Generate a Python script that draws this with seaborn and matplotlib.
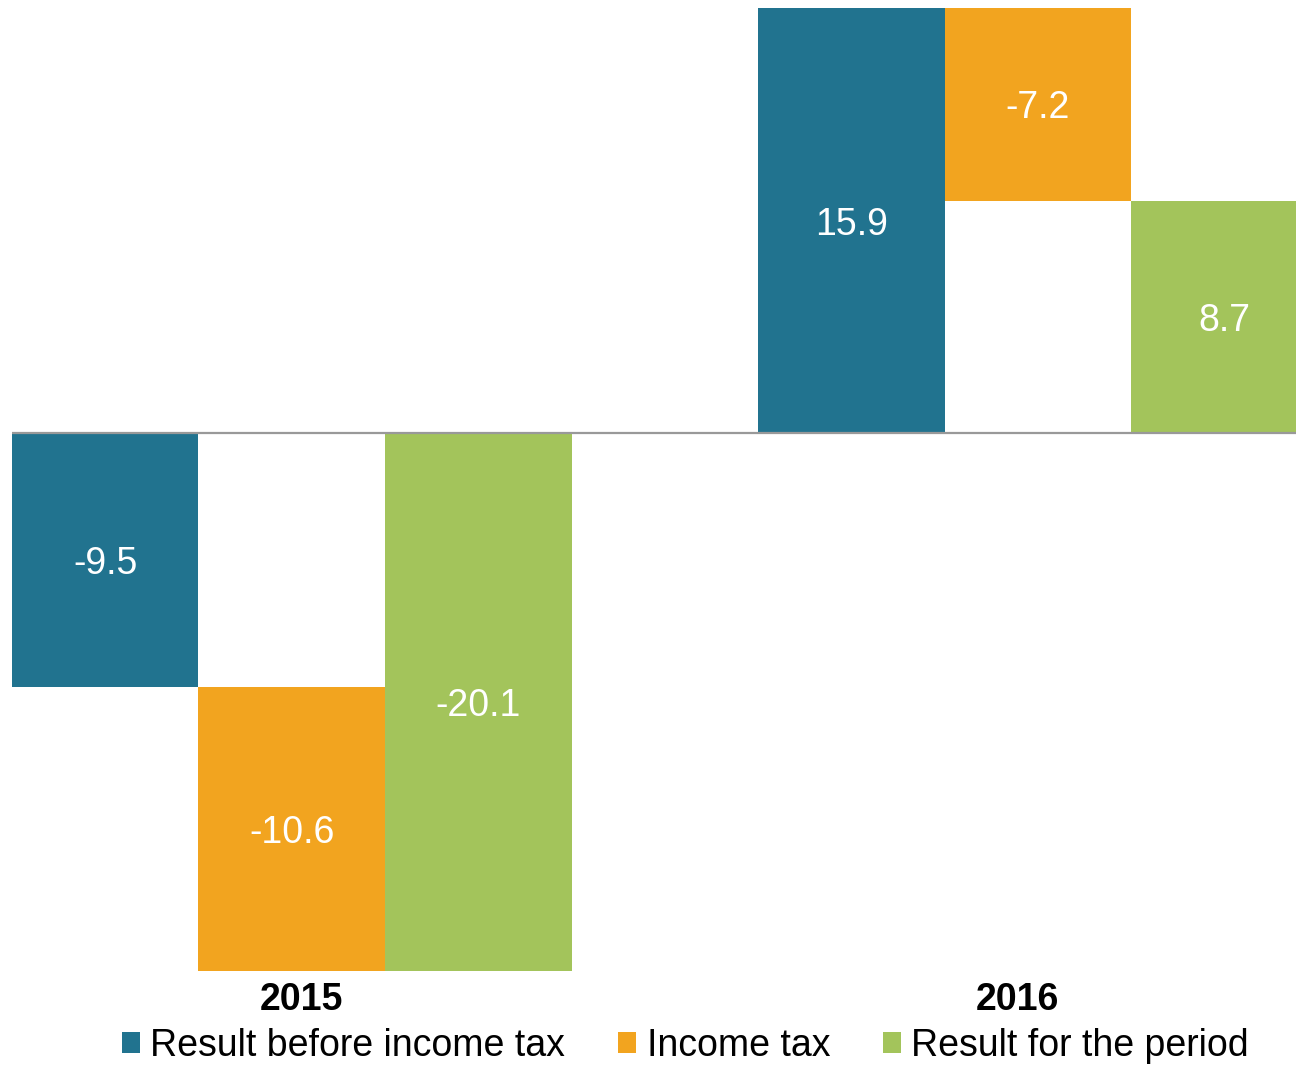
import pandas as pd
import seaborn as sns
import matplotlib.pyplot as plt
from matplotlib.patches import Patch

# data (EUR m)
years = ["2015", "2016"]
items = ["Result before income tax", "Income tax", "Result for the period"]
result_before_tax = [-9.5, 15.9]
income_tax = [-10.6, -7.2]
result_period = [-20.1, 8.7]

colors = ["#21738F", "#F2A41F", "#A3C45B"]

sns.set_style("white")
plt.rcParams["font.family"] = ["Liberation Sans", "DejaVu Sans"]
plt.rcParams["text.color"] = "black"
plt.rcParams["xtick.color"] = "black"

df = pd.DataFrame({
    "year": years * 3,
    "item": [items[0]] * 2 + [items[1]] * 2 + [items[2]] * 2,
    "value": result_before_tax + income_tax + result_period,
})

fig = plt.figure(figsize=(12.96, 10.66), dpi=100)
ax = fig.add_axes([0, 1 - 971 / 1066, 1, 971 / 1066])

sns.barplot(data=df, x="year", y="value", hue="item", order=years,
            hue_order=items, palette=colors, saturation=1, width=0.75,
            linewidth=0, errorbar=None, legend=False, ax=ax)

# income tax bars float: they start where the pre-tax result ends
for patch, start in zip(ax.containers[1], result_before_tax):
    patch.set_y(start)

labels = [result_before_tax, income_tax, result_period]
for cont, vals in zip(ax.containers, labels):
    for patch, v in zip(cont, vals):
        cx = patch.get_x() + patch.get_width() / 2
        cy = patch.get_y() + patch.get_height() / 2
        ax.text(cx, cy, f"{v:.1f}", ha="center", va="center_baseline",
                color="white", fontsize=27)

ax.set_xlim(-0.391, 1.346)
ax.set_ylim(-20.1, 16.2)
ax.hlines(0, -0.375, 1.346, color="#999999", lw=1.6, zorder=3)

ax.set_xticks([0.013, 0.972], labels=years)
ax.tick_params(axis="x", length=0, pad=8, labelsize=27, labelcolor="black")
for t in ax.get_xticklabels():
    t.set_fontweight("bold")
ax.set_yticks([])
ax.set_xlabel("")
ax.set_ylabel("")
sns.despine(ax=ax, left=True, bottom=True)

handles = [Patch(facecolor=c, edgecolor="none", label=l) for c, l in zip(colors, items)]
fig.legend(handles=handles, loc="center", bbox_to_anchor=(0.529, 0.019),
           ncol=3, frameon=False, fontsize=27, handlelength=0.48,
           handleheight=0.48, handletextpad=0.27, columnspacing=1.42,
           borderpad=0, borderaxespad=0, labelcolor="black")

fig.savefig("out.png", dpi=100)
